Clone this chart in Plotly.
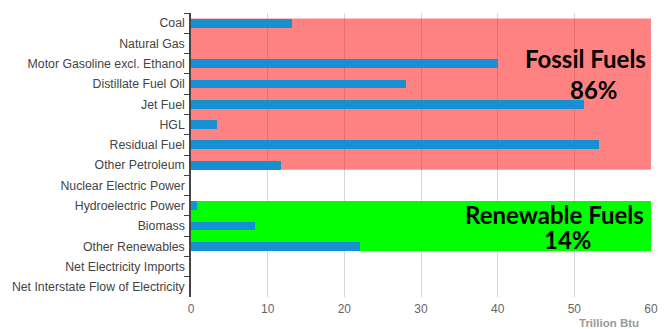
import plotly.graph_objects as go

# Energy consumption by source (trillion Btu)
categories = [
    "Coal", "Natural Gas", "Motor Gasoline excl. Ethanol", "Distillate Fuel Oil",
    "Jet Fuel", "HGL", "Residual Fuel", "Other Petroleum",
    "Nuclear Electric Power", "Hydroelectric Power", "Biomass", "Other Renewables",
    "Net Electricity Imports", "Net Interstate Flow of Electricity",
]
values = [13.2, 0, 40.0, 28.0, 51.2, 3.4, 53.2, 11.7, 0, 0.8, 8.3, 22.0, 0, 0]
x_ticks = [0, 10, 20, 30, 40, 50, 60]

fossil_range = ("Coal", "Other Petroleum")
renewable_range = ("Hydroelectric Power", "Other Renewables")
fossil_label = ["Fossil Fuels", "86%"]
renewable_label = ["Renewable Fuels", "14%"]

BAR_W = 0.44
PLOT_TOP, PLOT_BOTTOM = 13, 297  # pixel rows of the plotting area


def py(pixel_y):
    """Convert a pixel row into paper coordinates."""
    return (PLOT_BOTTOM - pixel_y) / (PLOT_BOTTOM - PLOT_TOP)


fig = go.Figure()
fig.add_trace(go.Bar(
    y=categories, x=values, orientation="h",
    width=BAR_W, marker=dict(color="#1591d2", line=dict(width=0)),
    hoverinfo="x+y",
))


def band(first, last, color):
    i0, i1 = categories.index(first), categories.index(last)
    fig.add_shape(type="rect", xref="x", yref="y",
                  x0=0, x1=x_ticks[-1], y0=i0 - BAR_W / 2 - 0.01, y1=i1 + BAR_W / 2 + 0.01,
                  fillcolor=color, line=dict(width=0), layer="between")


band(*fossil_range, "rgba(255,0,0,0.49)")
band(*renewable_range, "#00ff00")

label_font = dict(family="Lato", size=24, color="#000000")
for text, ypix, xshift in [
    (fossil_label[0], 58, -3),
    (fossil_label[1], 90, -31),
    (renewable_label[0], 215, -5),
    (renewable_label[1], 239, -57),
]:
    fig.add_annotation(x=1, xref="paper", y=py(ypix), yref="paper", text="<b>" + text + "</b>",
                       showarrow=False, xanchor="right", yanchor="middle", font=label_font,
                       xshift=xshift)

fig.add_annotation(x=1, xref="paper", y=0, yref="paper", text="<b>Trillion Btu</b>",
                   showarrow=False, xanchor="right", yanchor="middle", xshift=-10, yshift=-26,
                   font=dict(family="Liberation Sans", size=11.5, color="#999999"))

fig.update_layout(
    width=668, height=329,
    margin=dict(l=191, r=10, t=PLOT_TOP, b=329 - PLOT_BOTTOM),
    paper_bgcolor="white", plot_bgcolor="white",
    showlegend=False, bargap=0,
    font=dict(family="Liberation Sans", size=12, color="#444444"),
)
fig.update_xaxes(
    range=[0, 60], tickvals=x_ticks, showgrid=True, gridcolor="#d6d6d6", gridwidth=1,
    zeroline=False, showline=False, ticks="", tickfont=dict(color="#666666", size=12),
    ticklabelstandoff=3, fixedrange=True,
)
fig.update_yaxes(
    type="category", categoryorder="array", categoryarray=categories,
    autorange="reversed", showline=True, linecolor="#444444", linewidth=1.5,
    ticks="outside", tickson="boundaries", ticklen=5, tickcolor="#444444",
    showgrid=False, tickfont=dict(color="#444444", size=12.3), ticklabelstandoff=2,
    fixedrange=True,
)

fig.write_html("out.html")
